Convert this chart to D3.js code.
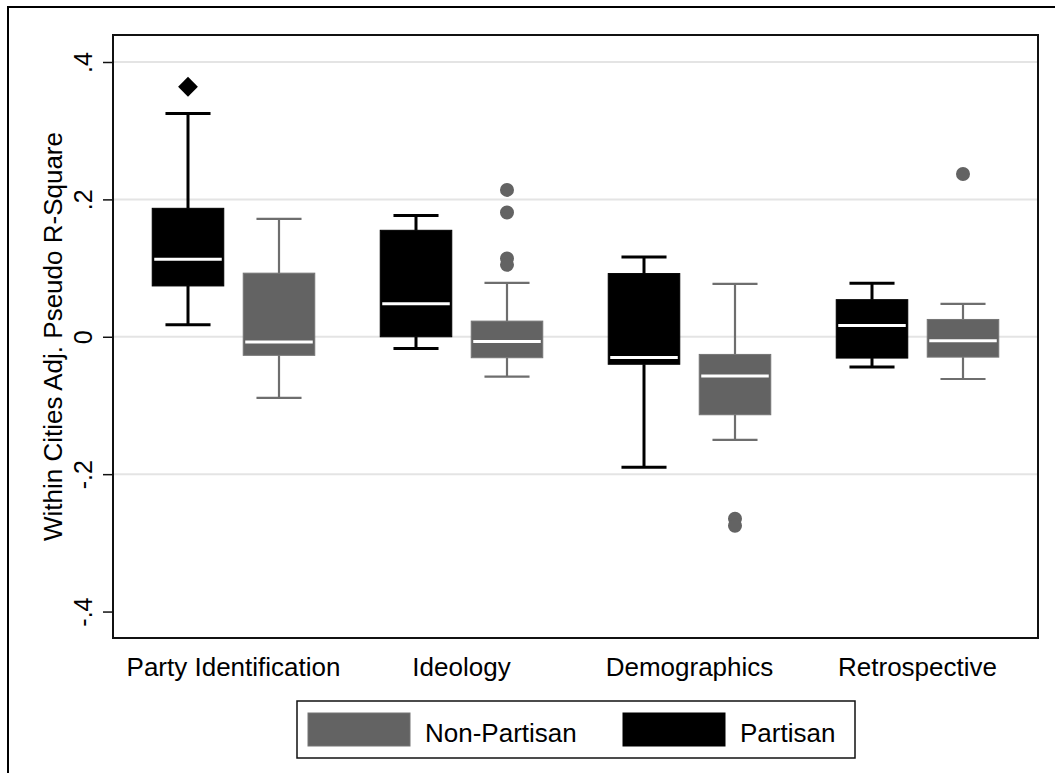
<!DOCTYPE html>
<html>
<head>
<meta charset="utf-8">
<script src="https://cdn.jsdelivr.net/npm/d3@7/dist/d3.min.js"></script>
<style>
  body { margin: 0; background: #fff; }
  text { font-family: "Liberation Sans", Arial, Helvetica, sans-serif; fill: #000; }
</style>
</head>
<body>
<div id="chart"></div>
<script>
// categories and series
var categories = ["Party Identification", "Ideology", "Demographics", "Retrospective"];
var series = ["Partisan", "Non-Partisan"];
var legendOrder = ["Non-Partisan", "Partisan"];

// box stats (lower whisker, q1, median, q3, upper whisker)
var partisanLow = [0.0175, -0.017, -0.190, -0.044];
var partisanQ1 = [0.074, 0.000, -0.040, -0.031];
var partisanMedian = [0.113, 0.048, -0.030, 0.0165];
var partisanQ3 = [0.187, 0.155, 0.092, 0.054];
var partisanHigh = [0.325, 0.1765, 0.116, 0.078];
var partisanOutliers = [[0.364], [], [], []];

var nonPartisanLow = [-0.089, -0.058, -0.150, -0.0615];
var nonPartisanQ1 = [-0.027, -0.0305, -0.1135, -0.0296];
var nonPartisanMedian = [-0.0077, -0.0068, -0.057, -0.0058];
var nonPartisanQ3 = [0.0926, 0.0228, -0.0257, 0.0252];
var nonPartisanHigh = [0.1716, 0.0785, 0.077, 0.048];
var nonPartisanOutliers = [[], [0.2138, 0.181, 0.114, 0.1047], [-0.265, -0.275], [0.237]];

// y axis ticks
var yTicks = [-0.4, -0.2, 0, 0.2, 0.4];
var yTickLabels = ["-.4", "-.2", "0", ".2", ".4"];
var gridValues = [-0.2, 0, 0.2, 0.4];
var yTitle = "Within Cities Adj. Pseudo R-Square";

var svgWidth = 1055, svgHeight = 773;
var margin = { top: 35, right: 17, bottom: 135, left: 113 },
  width = svgWidth - margin.left - margin.right,
  height = svgHeight - margin.top - margin.bottom;

var style = {
  "Partisan": { fill: "#000", stroke: "#000", line: "#000", lw: 3 },
  "Non-Partisan": { fill: "#636363", stroke: "#757575", line: "#6e6e6e", lw: 2.2 }
};

var root = d3
  .select("#chart")
  .append("svg")
  .attr("width", svgWidth)
  .attr("height", svgHeight);

// outer frame (cut off on right and bottom like the original)
root
  .append("rect")
  .attr("x", 8)
  .attr("y", 7)
  .attr("width", 1200)
  .attr("height", 900)
  .attr("fill", "none")
  .attr("stroke", "#000")
  .attr("stroke-width", 2);

var svg = root
  .append("g")
  .attr("transform", "translate(" + margin.left + "," + margin.top + ")");

var y = d3
  .scaleLinear()
  .domain([-0.4385, 0.4393])
  .range([height, 0]);

var x0 = d3
  .scaleBand()
  .domain(categories)
  .range([0, width])
  .paddingInner(0)
  .paddingOuter(0.0285);

var x1 = d3
  .scaleBand()
  .domain(series)
  .range([-91, 91])
  .paddingInner(0.214)
  .paddingOuter(0.107);

// grid
svg
  .append("g")
  .selectAll("line")
  .data(gridValues)
  .enter()
  .append("line")
  .attr("x1", 0)
  .attr("x2", width)
  .attr("y1", d => y(d))
  .attr("y2", d => y(d))
  .attr("stroke", "#e4e4e4")
  .attr("stroke-width", 2);

// build box rows
var boxes = [];
categories.forEach(function(c, i) {
  boxes.push({ cat: c, s: "Partisan", lo: partisanLow[i], q1: partisanQ1[i], med: partisanMedian[i], q3: partisanQ3[i], hi: partisanHigh[i], out: partisanOutliers[i] });
  boxes.push({ cat: c, s: "Non-Partisan", lo: nonPartisanLow[i], q1: nonPartisanQ1[i], med: nonPartisanMedian[i], q3: nonPartisanQ3[i], hi: nonPartisanHigh[i], out: nonPartisanOutliers[i] });
});

var bw = x1.bandwidth();
var capW = bw * 0.63;

var g = svg
  .selectAll(".box")
  .data(boxes)
  .enter()
  .append("g")
  .attr("class", "box")
  .attr("transform", d => "translate(" + (x0(d.cat) + x0.bandwidth() / 2 + x1(d.s)) + ",0)");

// whiskers
g.append("line")
  .attr("x1", bw / 2).attr("x2", bw / 2)
  .attr("y1", d => y(d.q3)).attr("y2", d => y(d.hi))
  .attr("stroke", d => style[d.s].line)
  .attr("stroke-width", d => style[d.s].lw);
g.append("line")
  .attr("x1", bw / 2).attr("x2", bw / 2)
  .attr("y1", d => y(d.q1)).attr("y2", d => y(d.lo))
  .attr("stroke", d => style[d.s].line)
  .attr("stroke-width", d => style[d.s].lw);
// caps
g.append("line")
  .attr("x1", (bw - capW) / 2).attr("x2", (bw + capW) / 2)
  .attr("y1", d => y(d.hi)).attr("y2", d => y(d.hi))
  .attr("stroke", d => style[d.s].line)
  .attr("stroke-width", d => style[d.s].lw);
g.append("line")
  .attr("x1", (bw - capW) / 2).attr("x2", (bw + capW) / 2)
  .attr("y1", d => y(d.lo)).attr("y2", d => y(d.lo))
  .attr("stroke", d => style[d.s].line)
  .attr("stroke-width", d => style[d.s].lw);

// box
g.append("rect")
  .attr("x", 0)
  .attr("width", bw)
  .attr("y", d => y(d.q3))
  .attr("height", d => y(d.q1) - y(d.q3))
  .attr("fill", d => style[d.s].fill)
  .attr("stroke", d => style[d.s].stroke)
  .attr("stroke-width", 1);

// median
g.append("line")
  .attr("x1", 2).attr("x2", bw - 2)
  .attr("y1", d => y(d.med)).attr("y2", d => y(d.med))
  .attr("stroke", "#fff")
  .attr("stroke-width", 3);

// outliers
g.selectAll(".out")
  .data(d => d.out.map(v => ({ v: v, s: d.s })))
  .enter()
  .append("path")
  .attr("class", "out")
  .attr("transform", d => "translate(" + bw / 2 + "," + y(d.v) + ")" + (d.s === "Partisan" ? " rotate(45)" : ""))
  .attr("d", d => d.s === "Partisan"
    ? d3.symbol().type(d3.symbolSquare).size(196)()
    : d3.symbol().type(d3.symbolCircle).size(154)())
  .attr("fill", d => style[d.s].fill);

// plot frame
svg
  .append("rect")
  .attr("width", width)
  .attr("height", height)
  .attr("fill", "none")
  .attr("stroke", "#111")
  .attr("stroke-width", 2);

// y axis
var yAxis = svg
  .append("g")
  .call(d3.axisLeft(y).tickValues(yTicks).tickSize(10).tickFormat((d, i) => yTickLabels[i]));
yAxis.select(".domain").remove();
yAxis.selectAll(".tick line").attr("stroke", "#111").attr("stroke-width", 1.5);
yAxis
  .selectAll(".tick text")
  .attr("x", null)
  .attr("dy", null)
  .attr("transform", "rotate(-90)")
  .attr("x", 0)
  .attr("y", -21)
  .attr("text-anchor", "middle")
  .attr("font-size", 25);

// x axis labels
var xAxis = svg
  .append("g")
  .attr("transform", "translate(0," + height + ")")
  .call(d3.axisBottom(x0).tickSize(0).tickPadding(0));
xAxis.select(".domain").remove();
xAxis
  .selectAll(".tick text")
  .attr("dy", null)
  .attr("y", 38)
  .attr("font-size", 26);

// y title
svg
  .append("text")
  .attr("transform", "rotate(-90)")
  .attr("x", -height / 2)
  .attr("y", 62 - margin.left)
  .attr("text-anchor", "middle")
  .attr("font-size", 26)
  .text(yTitle);

// legend
var legend = root.append("g").attr("transform", "translate(297,701)");
legend
  .append("rect")
  .attr("width", 558)
  .attr("height", 57)
  .attr("fill", "#fff")
  .attr("stroke", "#111")
  .attr("stroke-width", 1.5);

var legendX = [11, 326];
var item = legend
  .selectAll(".item")
  .data(legendOrder)
  .enter()
  .append("g")
  .attr("class", "item")
  .attr("transform", (d, i) => "translate(" + legendX[i] + ",12)");
item
  .append("rect")
  .attr("width", 102)
  .attr("height", 33)
  .attr("fill", d => style[d].fill)
  .attr("stroke", d => style[d].stroke)
  .attr("stroke-width", 1);
item
  .append("text")
  .attr("x", 117)
  .attr("y", 29)
  .attr("font-size", 26)
  .text(d => d);
</script>
</body>
</html>
